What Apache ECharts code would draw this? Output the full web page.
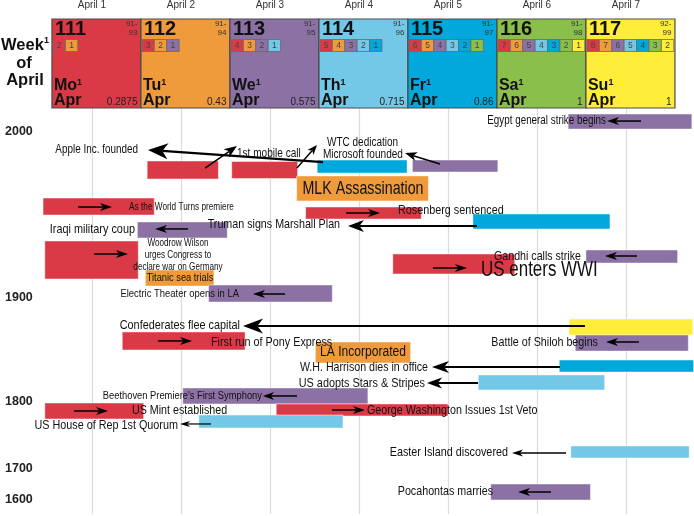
<!DOCTYPE html>
<html><head><meta charset="utf-8">
<script src="https://cdn.jsdelivr.net/npm/echarts@6/dist/echarts.min.js"></script>
<style>html,body{margin:0;padding:0;background:#fff}#c{width:694px;height:516px}</style>
</head><body><div id="c"></div>
<script>
// ---------------- DATA ----------------
const dayLabels = ['April 1','April 2','April 3','April 4','April 5','April 6','April 7'];
const yearTicks = [2000, 1900, 1800, 1700, 1600];

const headerNumbers = ['111','112','113','114','115','116','117'];
const headerRanges = [['91-','93'],['91-','94'],['91-','95'],['91-','96'],['91-','97'],['91-','98'],['92-','99']];
const headerDays = ['Mo','Tu','We','Th','Fr','Sa','Su'];
const headerMonth = 'Apr';
const headerFractions = ['0.2875','0.43','0.575','0.715','0.86','1','1'];
const headerCells = [[2,1],[3,2,1],[4,3,2,1],[5,4,3,2,1],[6,5,4,3,2,1],[7,6,5,4,3,2,1],[8,7,6,5,4,3,2]];

const eventNames = [
  'Egypt general strike begins','Apple Inc. founded','1st mobile call','WTC dedication','Microsoft founded',
  'MLK Assassination','As the World Turns premiere','Rosenberg sentenced','Truman signs Marshall Plan',
  'Iraqi military coup','Woodrow Wilson\nurges Congress to\ndeclare war on Germany','Titanic sea trials',
  'Electric Theater opens in LA','Gandhi calls strike','US enters WWI','Confederates flee capital',
  'First run of Pony Express','Battle of Shiloh begins','LA Incorporated','W.H. Harrison dies in office',
  'US adopts Stars & Stripes',"Beethoven Premiere's First Symphony",'US Mint established',
  'George Washington Issues 1st Veto','US House of Rep 1st Quorum','Easter Island discovered','Pocahontas marries'
];
const barStartDay = [6.35,3.53,1.62,2.57,4.60,3.30,0.45,3.40,5.28,1.51,0.47,1.60,2.31,6.55,4.38,6.36,1.34,6.43,3.51,6.25,5.34,2.02,0.47,3.07,2.20,6.38,5.48];
const barEndDay   = [7.74,4.54,2.42,3.31,5.56,4.78,1.70,4.70,6.82,2.52,1.52,2.37,3.70,7.58,5.75,7.75,2.72,7.70,4.58,7.76,6.76,4.10,1.58,5.00,3.82,7.71,6.60];
const barYear     = [2006.3,1979.2,1977.1,1977.1,1979.5,1966.0,1955.1,1951.2,1946.1,1941.0,1922.9,1912.0,1902.7,1925.0,1920.5,1872.1,1858.7,1856.7,1847.6,1834.6,1818.8,1805.8,1786.6,1788.1,1770.9,1725.4,1625.8];
const barWeekday  = ['We','Fr','Mo','Mo','We','Tu','Mo','Mo','Fr','We','Mo','Tu','We','We','Mo','Su','Mo','We','Tu','Fr','Th','We','Mo','Mo','Th','Th','We'];

// ---------------- LAYOUT / STYLE ----------------
const tickOffsetPx = [0, 166, 270, 337, 368];   // spacing of the non-linear year scale
const barHeightPx = [15,13,18,17,12,25,17,12,15,16,38,16,17,13,20,16,18,16,21,12,15,16,16,12,13,12,16];
const labelPos = [
  [6.775,2006.6],[1.517,1989.2],[2.629,1987.3],[3.640,1993.4],[4.494,1986.7],[4.045,1965.7],[2.006,1954.8],
  [4.438,1953.0],[3.787,1944.6],[1.483,1941.6],[1.966,1925.9],[1.989,1912.0],[2.652,1902.4],[6.494,1925.3],
  [5.371,1916.9],[2.663,1874.0],[2.337,1857.7],[6.685,1857.7],[4.045,1848.1],[4.775,1833.7],[4.742,1818.3],
  [2.910,1805.8],[1.449,1788.1],[4.090,1788.1],[1.966,1765.7],[5.674,1725.4],[5.506,1629.0]
];
const labelAlign = ['right','right','left','left','right','center','center','left','right','right','center','center','right','right','left','right','left','right','center','right','right','right','left','left','right','right','right'];
const labelSize = [12.3,12.4,12.6,12.5,12.6,17.8,10.3,13.5,13.4,13.6,10.2,11.6,11.8,13.3,21.2,13.6,13.5,13.4,15.1,13.3,13.6,11.7,13.4,13.4,13.5,13.5,13.4];
const arrowFrom = [[7.169,2006.6],[3.596,1981.9],[2.270,1978.3],[3.303,1978.3],[4.910,1980.7],null,[0.843,1954.8],[3.854,1951.2],[5.326,1943.4],[2.079,1941.6],[1.022,1926.5],null,[3.169,1902.4],[7.124,1925.3],[4.831,1918.1],[6.539,1873.1],[1.742,1858.7],[7.146,1857.7],null,[6.258,1833.7],[5.337,1818.3],[3.303,1805.8],[0.798,1786.6],[3.697,1788.1],[2.337,1767.2],[6.326,1723.9],[6.157,1625.8]];
const arrowTo   = [[6.787,2006.6],[1.629,1989.2],[2.629,1991.6],[3.528,1992.2],[4.517,1987.3],null,[1.225,1954.8],[4.236,1951.2],[3.876,1943.4],[1.708,1941.6],[1.404,1926.5],null,[2.809,1902.4],[6.764,1925.3],[5.213,1918.1],[2.697,1873.1],[2.124,1858.7],[6.775,1857.7],null,[4.820,1833.7],[4.764,1818.3],[2.921,1805.8],[1.180,1786.6],[4.067,1788.1],[1.989,1767.2],[5.719,1723.9],[5.787,1625.8]];
const arrowHead = [[12,8,1.5],[20,16,2.2],[13,10,1.5],[10,8,1.5],[12,9,1.5],null,[12,8,1.5],[12,8,1.5],[16,12,2],[12,8,1.5],[12,8,1.5],null,[12,8,1.5],[12,8,1.5],[12,8,1.5],[20,15,2],[12,8,1.5],[12,8,1.5],null,[17,12,2],[15,11,2],[11,8,1.5],[12,8,1.5],[12,8,1.5],[10,6,1.2],[11,7,1.5],[12,8,1.5]];
const weekdayColor = {Mo:'#DA3A46', Tu:'#EF9A3B', We:'#8C71A5', Th:'#72C8E6', Fr:'#00A8DB', Sa:'#8BBF4C', Su:'#FFED3A'};
const cellColors = ['#DA3A46','#EF9A3B','#8C71A5','#72C8E6','#00A8DB','#8BBF4C','#FFED3A'];
const FONT = "'Liberation Sans', Arial, Helvetica, sans-serif";
const NARROW = 0.8;

function yearToPos(y) {
  const n = yearTicks.length;
  let i = y >= yearTicks[0] ? 0 : n - 2;
  for (let k = 0; k < n - 1; k++) {
    if (y <= yearTicks[k] && y >= yearTicks[k + 1]) { i = k; break; }
  }
  const y0 = yearTicks[i], y1 = yearTicks[i + 1], p0 = tickOffsetPx[i], p1 = tickOffsetPx[i + 1];
  return p0 + (y - y0) * (p1 - p0) / (y1 - y0);
}

const chart = echarts.init(document.getElementById('c'), null, {renderer: 'canvas'});

const barData = eventNames.map((n, i) => [barStartDay[i], yearToPos(barYear[i]), barEndDay[i], i]);
const labelData = eventNames.map((n, i) => [labelPos[i][0], yearToPos(labelPos[i][1]), i]);
const arrowData = [];
arrowFrom.forEach((f, i) => {
  if (f) arrowData.push([f[0], yearToPos(f[1]), arrowTo[i][0], yearToPos(arrowTo[i][1]), i]);
});
const headerData = headerNumbers.map((n, i) => [i + 1, 0.5, i]);

const splitColors = ['rgba(0,0,0,0)', '#dadada', '#dadada', '#dadada', '#dadada', '#dadada', '#dadada', '#dadada', 'rgba(0,0,0,0)'];

const option = {
  animation: false,
  backgroundColor: '#ffffff',
  grid: [
    {left: 3, top: 93, width: 712, height: 421, outerBoundsMode: 'none', containLabel: false},
    {left: 3, top: 19, width: 712, height: 89, outerBoundsMode: 'none', containLabel: false}
  ],
  xAxis: [
    {gridIndex: 0, type: 'value', position: 'top', min: 0, max: 8, interval: 1,
     axisLine: {show: false}, axisTick: {show: false},
     axisLabel: {margin: 88, verticalAlign: 'middle', fontSize: 10, color: '#333', fontFamily: FONT,
       formatter: v => dayLabels[Math.round(v) - 1] || ''},
     splitLine: {show: true, lineStyle: {color: splitColors, width: 1.2}}},
    {gridIndex: 1, type: 'value', min: 0, max: 8, show: false}
  ],
  yAxis: [
    {gridIndex: 0, type: 'value', inverse: true, min: -39, max: 382,
     axisLine: {show: false}, axisTick: {show: false}, splitLine: {show: false},
     axisLabel: {inside: true, margin: 2, align: 'left', fontSize: 12.5, fontWeight: 'bold', color: '#222', fontFamily: FONT,
       customValues: yearTicks.map(yearToPos),
       formatter: v => {
         for (let k = 0; k < tickOffsetPx.length; k++) if (Math.abs(tickOffsetPx[k] - v) < 0.5) return String(yearTicks[k]);
         return '';
       }}},
    {gridIndex: 1, type: 'value', min: 0, max: 1, show: false}
  ],
  graphic: [
    {type: 'text', x: 25, y: 45, style: {text: '{w|Week}{s|1}', align: 'center', verticalAlign: 'middle',
      rich: {w: {fontSize: 16.5, fontWeight: 'bold', fill: '#111', fontFamily: FONT},
             s: {fontSize: 9, fontWeight: 'bold', fill: '#111', fontFamily: FONT, verticalAlign: 'top'}}}},
    {type: 'text', x: 24, y: 63, style: {text: 'of', align: 'center', verticalAlign: 'middle', fontSize: 16.5, fontWeight: 'bold', fill: '#111', fontFamily: FONT}},
    {type: 'text', x: 25, y: 80, style: {text: 'April', align: 'center', verticalAlign: 'middle', fontSize: 16.5, fontWeight: 'bold', fill: '#111', fontFamily: FONT}}
  ],
  series: [
    {
      type: 'custom', name: 'bars', xAxisIndex: 0, yAxisIndex: 0, data: barData,
      encode: {x: [0, 2], y: 1},
      renderItem: (params, api) => {
        const i = api.value(3);
        const a = api.coord([api.value(0), api.value(1)]);
        const b = api.coord([api.value(2), api.value(1)]);
        const h = barHeightPx[i];
        return {type: 'rect', shape: {x: a[0], y: a[1] - h / 2, width: b[0] - a[0], height: h},
          style: {fill: weekdayColor[barWeekday[i]], stroke: 'rgba(255,255,255,0.45)', lineWidth: 1}};
      }
    },
    {
      type: 'custom', name: 'arrows', xAxisIndex: 0, yAxisIndex: 0, data: arrowData,
      encode: {x: [0, 2], y: [1, 3]}, z: 3,
      renderItem: (params, api) => {
        const i = api.value(4);
        const a = api.coord([api.value(0), api.value(1)]);
        const b = api.coord([api.value(2), api.value(3)]);
        const hd = arrowHead[i];
        const dx = b[0] - a[0], dy = b[1] - a[1], len = Math.hypot(dx, dy);
        const ux = dx / len, uy = dy / len, px = -uy, py = ux;
        const L = hd[0], W = hd[1] / 2;
        const back = [b[0] - ux * L, b[1] - uy * L];
        const notch = [b[0] - ux * L * 0.72, b[1] - uy * L * 0.72];
        return {type: 'group', children: [
          {type: 'line', shape: {x1: a[0], y1: a[1], x2: notch[0], y2: notch[1]}, style: {stroke: '#000', lineWidth: hd[2]}},
          {type: 'polygon', shape: {points: [b, [back[0] + px * W, back[1] + py * W], notch, [back[0] - px * W, back[1] - py * W]]},
           style: {fill: '#000'}}
        ]};
      }
    },
    {
      type: 'custom', name: 'labels', xAxisIndex: 0, yAxisIndex: 0, data: labelData,
      encode: {x: 0, y: 1}, z: 4,
      renderItem: (params, api) => {
        const i = api.value(2);
        const p = api.coord([api.value(0), api.value(1)]);
        return {type: 'text', x: p[0], y: p[1], scaleX: NARROW,
          style: {text: eventNames[i], align: labelAlign[i], verticalAlign: 'middle', fontSize: labelSize[i],
            lineHeight: 12, fontFamily: FONT, fill: '#111'}};
      }
    },
    {
      type: 'custom', name: 'header', xAxisIndex: 1, yAxisIndex: 1, data: headerData,
      encode: {x: 0, y: 1}, z: 5,
      renderItem: (params, api) => {
        const i = api.value(2);
        const tl = api.coord([api.value(0) - 0.45, 1]);
        const sz = api.size([1, 1]);
        const L = tl[0], T = tl[1], W = sz[0], H = sz[1];
        const ch = [];
        ch.push({type: 'rect', shape: {x: L, y: T, width: W, height: H},
          style: {fill: weekdayColor[headerDays[i]], stroke: '#4a4a4a', lineWidth: 1.2}});
        ch.push({type: 'text', x: L + 3, y: T + 10.5, style: {text: headerNumbers[i], fontSize: 20, fontWeight: 'bold',
          fontFamily: FONT, fill: '#111', align: 'left', verticalAlign: 'middle'}});
        ch.push({type: 'text', x: L + W - 3.5, y: T + 1, style: {text: headerRanges[i].join('\n'), fontSize: 8, lineHeight: 8.5,
          fontFamily: FONT, fill: '#333', align: 'right', verticalAlign: 'top'}});
        headerCells[i].forEach((n, k) => {
          const cx = L + 1 + k * 12.4;
          ch.push({type: 'rect', shape: {x: cx, y: T + 20.5, width: 12.4, height: 12},
            style: {fill: cellColors[k], stroke: '#6a6a6a', lineWidth: 0.8}});
          ch.push({type: 'text', x: cx + 6.2, y: T + 26.5, style: {text: String(n), fontSize: 8.5, fill: '#444',
            align: 'center', verticalAlign: 'middle', fontFamily: FONT}});
        });
        ch.push({type: 'text', x: L + 2, y: T + 67, style: {text: '{d|' + headerDays[i] + '}{s|1}', align: 'left', verticalAlign: 'middle',
          rich: {d: {fontSize: 16, fontWeight: 'bold', fill: '#111', fontFamily: FONT},
                 s: {fontSize: 9, fontWeight: 'bold', fill: '#111', fontFamily: FONT, verticalAlign: 'top'}}}});
        ch.push({type: 'text', x: L + 2, y: T + 82, style: {text: headerMonth, fontSize: 16, fontWeight: 'bold', fill: '#111',
          align: 'left', verticalAlign: 'middle', fontFamily: FONT}});
        ch.push({type: 'text', x: L + W - 3.5, y: T + 83, style: {text: headerFractions[i], fontSize: 10, fill: '#222',
          align: 'right', verticalAlign: 'middle', fontFamily: FONT}});
        return {type: 'group', children: ch};
      }
    }
  ]
};
chart.setOption(option);
</script>
</body></html>
